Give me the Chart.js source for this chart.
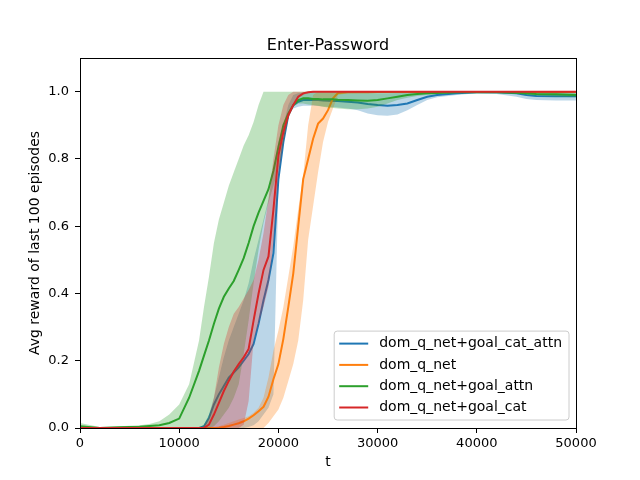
<!DOCTYPE html>
<html>
<head>
<meta charset="utf-8">
<title>Enter-Password</title>
<script src="https://cdn.jsdelivr.net/npm/chart.js@4.4.0/dist/chart.umd.min.js"></script>
<style>
  body { margin: 0; background: #fff; }
  #wrap { width: 640px; height: 480px; }
</style>
</head>
<body>
<div id="wrap"><canvas id="myChart" width="640" height="480"></canvas></div>
<script>
// training step (x) shared by every series
var steps = [
  0, 2000, 4000, 6000, 7000, 8000, 9000, 10000, 11000, 12000,
  12500, 13000, 13500, 14000, 14500, 15000, 15500, 16000, 16500, 17000,
  17500, 18000, 18500, 19000, 19500, 20000, 20500, 21000, 21500, 22000,
  22500, 23000, 23500, 24000, 24500, 25000, 25500, 26000, 27000, 28000,
  29000, 30000, 31000, 32000, 33000, 34000, 35000, 36000, 38000, 40000,
  42000, 44000, 45000, 46000, 48000, 50000
];

// dom_q_net+goal_cat_attn
var catAttnMean = [
  0, 0, 0, 0, 0, 0, 0, 0, 0, 0,
  0.005, 0.03, 0.07, 0.10, 0.125, 0.15, 0.165, 0.18, 0.20, 0.22,
  0.25, 0.31, 0.38, 0.44, 0.52, 0.74, 0.85, 0.93, 0.96, 0.97,
  0.975, 0.975, 0.975, 0.975, 0.974, 0.973, 0.972, 0.972, 0.970, 0.968,
  0.963, 0.960, 0.958, 0.960, 0.965, 0.975, 0.985, 0.990, 0.995, 0.998,
  0.998, 0.995, 0.990, 0.987, 0.986, 0.986
];
var catAttnLo = [
  0, 0, 0, 0, 0, 0, 0, 0, 0, 0,
  0, 0, 0, 0, 0, 0, 0, 0, 0, 0.003,
  0.008, 0.02, 0.04, 0.06, 0.10, 0.72, 0.87, 0.93, 0.95, 0.955,
  0.958, 0.958, 0.958, 0.957, 0.956, 0.955, 0.954, 0.953, 0.950, 0.945,
  0.935, 0.930, 0.928, 0.932, 0.945, 0.960, 0.975, 0.983, 0.990, 0.995,
  0.993, 0.985, 0.978, 0.975, 0.974, 0.974
];
var catAttnHi = [
  0, 0, 0, 0, 0, 0, 0, 0, 0, 0,
  0.01, 0.04, 0.09, 0.15, 0.21, 0.26, 0.30, 0.34, 0.38, 0.43,
  0.50, 0.56, 0.62, 0.68, 0.77, 0.85, 0.90, 0.96, 0.99, 0.995,
  0.997, 0.998, 0.998, 0.998, 0.998, 0.998, 0.998, 0.998, 0.998, 0.997,
  0.996, 0.995, 0.995, 0.996, 0.997, 0.998, 0.999, 1, 1, 1,
  1, 0.999, 0.998, 0.997, 0.997, 0.997
];

// dom_q_net
var qnetMean = [
  0, 0, 0, 0, 0, 0, 0, 0, 0, 0,
  0, 0, 0, 0.001, 0.003, 0.006, 0.01, 0.014, 0.02, 0.028,
  0.038, 0.05, 0.063, 0.093, 0.145, 0.19, 0.265, 0.36, 0.46, 0.60,
  0.74, 0.80, 0.86, 0.905, 0.92, 0.945, 0.98, 0.996, 0.998, 0.998,
  0.998, 0.999, 0.999, 0.999, 0.999, 0.999, 0.999, 0.999, 0.999, 0.999,
  0.999, 0.999, 0.999, 0.999, 0.999, 0.999
];
var qnetLo = [
  0, 0, 0, 0, 0, 0, 0, 0, 0, 0,
  0, 0, 0, 0, 0, 0, 0, 0, 0, 0,
  0, 0, 0, 0.015, 0.035, 0.055, 0.09, 0.14, 0.19, 0.26,
  0.38, 0.56, 0.66, 0.76, 0.85, 0.91, 0.95, 0.99, 0.995, 0.996,
  0.997, 0.997, 0.997, 0.997, 0.997, 0.997, 0.997, 0.997, 0.997, 0.997,
  0.997, 0.997, 0.997, 0.997, 0.997, 0.997
];
var qnetHi = [
  0, 0, 0, 0, 0, 0, 0, 0, 0, 0,
  0, 0, 0.002, 0.005, 0.01, 0.015, 0.02, 0.025, 0.03, 0.035,
  0.045, 0.06, 0.09, 0.15, 0.23, 0.29, 0.36, 0.45, 0.54, 0.65,
  0.75, 0.90, 0.99, 1, 1, 1, 1, 1, 1, 1,
  1, 1, 1, 1, 1, 1, 1, 1, 1, 1,
  1, 1, 1, 1, 1, 1
];

// dom_q_net+goal_attn
var attnMean = [
  0.005, 0, 0.002, 0.004, 0.006, 0.008, 0.015, 0.028, 0.09, 0.17,
  0.215, 0.26, 0.31, 0.355, 0.39, 0.415, 0.437, 0.47, 0.505, 0.55,
  0.60, 0.64, 0.675, 0.71, 0.765, 0.835, 0.90, 0.935, 0.96, 0.975,
  0.98, 0.98, 0.978, 0.978, 0.977, 0.977, 0.977, 0.976, 0.975, 0.974,
  0.973, 0.975, 0.98, 0.985, 0.99, 0.993, 0.995, 0.996, 0.998, 0.999,
  0.998, 0.997, 0.995, 0.993, 0.992, 0.99
];
var attnLo = [
  0, 0, 0, 0, 0, 0, 0, 0, 0, 0,
  0, 0, 0.005, 0.02, 0.04, 0.06, 0.09, 0.13, 0.22, 0.32,
  0.43, 0.53, 0.61, 0.67, 0.72, 0.77, 0.85, 0.92, 0.955, 0.965,
  0.965, 0.962, 0.96, 0.958, 0.955, 0.953, 0.951, 0.95, 0.948, 0.948,
  0.95, 0.955, 0.965, 0.975, 0.982, 0.987, 0.99, 0.992, 0.995, 0.997,
  0.996, 0.993, 0.99, 0.988, 0.985, 0.983
];
var attnHi = [
  0.015, 0.003, 0.005, 0.008, 0.012, 0.02, 0.04, 0.07, 0.13, 0.26,
  0.36, 0.45, 0.55, 0.62, 0.67, 0.72, 0.76, 0.80, 0.84, 0.87,
  0.91, 0.96, 1, 1, 1, 1, 1, 1, 1, 1,
  1, 1, 1, 1, 1, 1, 1, 1, 1, 1,
  1, 1, 1, 1, 1, 1, 1, 1, 1, 1,
  1, 1, 1, 1, 1, 1
];

// dom_q_net+goal_cat
var catMean = [
  0, 0, 0, 0, 0, 0, 0, 0, 0, 0,
  0, 0.01, 0.04, 0.075, 0.11, 0.14, 0.168, 0.19, 0.21, 0.235,
  0.32, 0.40, 0.47, 0.51, 0.65, 0.81, 0.88, 0.93, 0.96, 0.985,
  0.995, 0.998, 1, 1, 1, 1, 1, 1, 1, 1,
  1, 1, 1, 1, 1, 1, 1, 1, 1, 1,
  1, 1, 1, 1, 1, 1
];
var catLo = [
  0, 0, 0, 0, 0, 0, 0, 0, 0, 0,
  0, 0, 0, 0, 0, 0, 0, 0, 0.01, 0.08,
  0.26, 0.31, 0.36, 0.42, 0.55, 0.75, 0.85, 0.92, 0.955, 0.98,
  0.99, 0.995, 0.997, 0.998, 0.998, 0.998, 0.998, 0.998, 0.998, 0.998,
  0.998, 0.998, 0.998, 0.998, 0.998, 0.998, 0.998, 0.998, 0.998, 0.998,
  0.998, 0.998, 0.998, 0.998, 0.998, 0.998
];
var catHi = [
  0, 0, 0, 0, 0, 0, 0, 0, 0, 0,
  0.005, 0.03, 0.09, 0.18, 0.25, 0.30, 0.34, 0.36, 0.385, 0.41,
  0.44, 0.50, 0.58, 0.68, 0.80, 0.90, 0.96, 0.99, 1, 1,
  1, 1, 1, 1, 1, 1, 1, 1, 1, 1,
  1, 1, 1, 1, 1, 1, 1, 1, 1, 1,
  1, 1, 1, 1, 1, 1
];

var xTicks = [0, 10000, 20000, 30000, 40000, 50000];
var yTicks = [0, 0.2, 0.4, 0.6, 0.8, 1.0];

var series = [
  { label: 'dom_q_net+goal_cat_attn', rgb: '31,119,180', mean: catAttnMean, lo: catAttnLo, hi: catAttnHi },
  { label: 'dom_q_net', rgb: '255,127,14', mean: qnetMean, lo: qnetLo, hi: qnetHi },
  { label: 'dom_q_net+goal_attn', rgb: '44,160,44', mean: attnMean, lo: attnLo, hi: attnHi },
  { label: 'dom_q_net+goal_cat', rgb: '214,39,40', mean: catMean, lo: catLo, hi: catHi }
];

function pts(arr) {
  return steps.map(function (t, i) { return { x: t, y: arr[i] }; });
}

// band (lo, hi filled) then mean line, drawn in series order like matplotlib
var datasets = [];
series.forEach(function (s, k) {
  var base = datasets.length;
  var ord = 2 * (series.length - k);
  datasets.push({ data: pts(s.lo), borderColor: 'transparent', borderWidth: 0, pointRadius: 0, fill: false, order: ord });
  datasets.push({ data: pts(s.hi), borderColor: 'transparent', borderWidth: 0, pointRadius: 0,
    fill: base, backgroundColor: 'rgba(' + s.rgb + ',0.3)', order: ord });
  datasets.push({ label: s.label, data: pts(s.mean), borderColor: 'rgb(' + s.rgb + ')', borderWidth: 2,
    pointRadius: 0, fill: false, order: ord - 1, isMean: true });
});

var FONT = '"DejaVu Sans", sans-serif';

// axes frame, title and the legend box in the lower right
var decor = {
  id: 'decor',
  afterDraw: function (chart) {
    var ctx = chart.ctx, a = chart.chartArea;
    ctx.save();
    ctx.strokeStyle = '#000';
    ctx.lineWidth = 1;
    ctx.strokeRect(a.left + 0.5, a.top + 0.5, a.right - a.left, a.bottom - a.top);

    ctx.fillStyle = '#000';
    ctx.font = '16px ' + FONT;
    ctx.textAlign = 'center';
    ctx.textBaseline = 'alphabetic';
    ctx.fillText('Enter-Password', (a.left + a.right) / 2, 50);

    var items = chart.data.datasets.filter(function (d) { return d.isMean; });
    ctx.font = '14px ' + FONT;
    var tw = 0;
    items.forEach(function (d) { tw = Math.max(tw, ctx.measureText(d.label).width); });
    var rowH = 21.3;
    var w = tw + 52, h = rowH * (items.length - 1) + 25;
    var x = a.right - 7 - w, y = a.bottom - 8 - h, r = 3;
    ctx.beginPath();
    ctx.moveTo(x + r, y);
    ctx.arcTo(x + w, y, x + w, y + h, r);
    ctx.arcTo(x + w, y + h, x, y + h, r);
    ctx.arcTo(x, y + h, x, y, r);
    ctx.arcTo(x, y, x + w, y, r);
    ctx.closePath();
    ctx.fillStyle = 'rgba(255,255,255,0.8)';
    ctx.fill();
    ctx.strokeStyle = '#cccccc';
    ctx.stroke();

    ctx.textAlign = 'left';
    ctx.textBaseline = 'middle';
    items.forEach(function (d, i) {
      var cy = y + 12.5 + i * rowH;
      ctx.strokeStyle = d.borderColor;
      ctx.lineWidth = 2;
      ctx.beginPath();
      ctx.moveTo(x + 5, cy);
      ctx.lineTo(x + 34, cy);
      ctx.stroke();
      ctx.fillStyle = '#000';
      ctx.fillText(d.label, x + 45, cy);
    });
    ctx.restore();
  }
};

Chart.defaults.font.family = FONT;
Chart.defaults.color = '#000';

var ctx = document.getElementById('myChart').getContext('2d');
var myChart = new Chart(ctx, {
  type: 'line',
  data: { datasets: datasets },
  options: {
    responsive: false,
    animation: false,
    layout: { padding: { top: 58, right: 64, left: 0, bottom: 0 } },
    elements: { line: { tension: 0 } },
    plugins: {
      legend: { display: false },
      tooltip: { enabled: false },
      title: { display: false },
      filler: { propagate: false }
    },
    scales: {
      x: {
        type: 'linear',
        min: 0,
        max: 50000,
        afterBuildTicks: function (axis) { axis.ticks = xTicks.map(function (v) { return { value: v }; }); },
        afterFit: function (axis) { axis.height = 52; },
        ticks: { font: { size: 13 }, padding: 3, maxRotation: 0, callback: function (v) { return String(v); } },
        grid: { drawOnChartArea: false, drawTicks: true, tickLength: 5, color: '#000' },
        border: { display: true, color: '#000' },
        title: { display: true, text: 't', font: { size: 14 }, padding: { top: 0, bottom: 9.6 } }
      },
      y: {
        min: 0,
        max: 1.1,
        afterBuildTicks: function (axis) { axis.ticks = yTicks.map(function (v) { return { value: v }; }); },
        afterFit: function (axis) { axis.width = 80; },
        ticks: { font: { size: 13 }, padding: 6, callback: function (v) { return v.toFixed(1); } },
        grid: { drawOnChartArea: false, drawTicks: true, tickLength: 5, color: '#000' },
        border: { display: true, color: '#000' },
        title: { display: true, text: 'Avg reward of last 100 episodes', font: { size: 14 }, padding: { top: 26.6, bottom: 0 } }
      }
    }
  },
  plugins: [decor]
});
</script>
</body>
</html>
